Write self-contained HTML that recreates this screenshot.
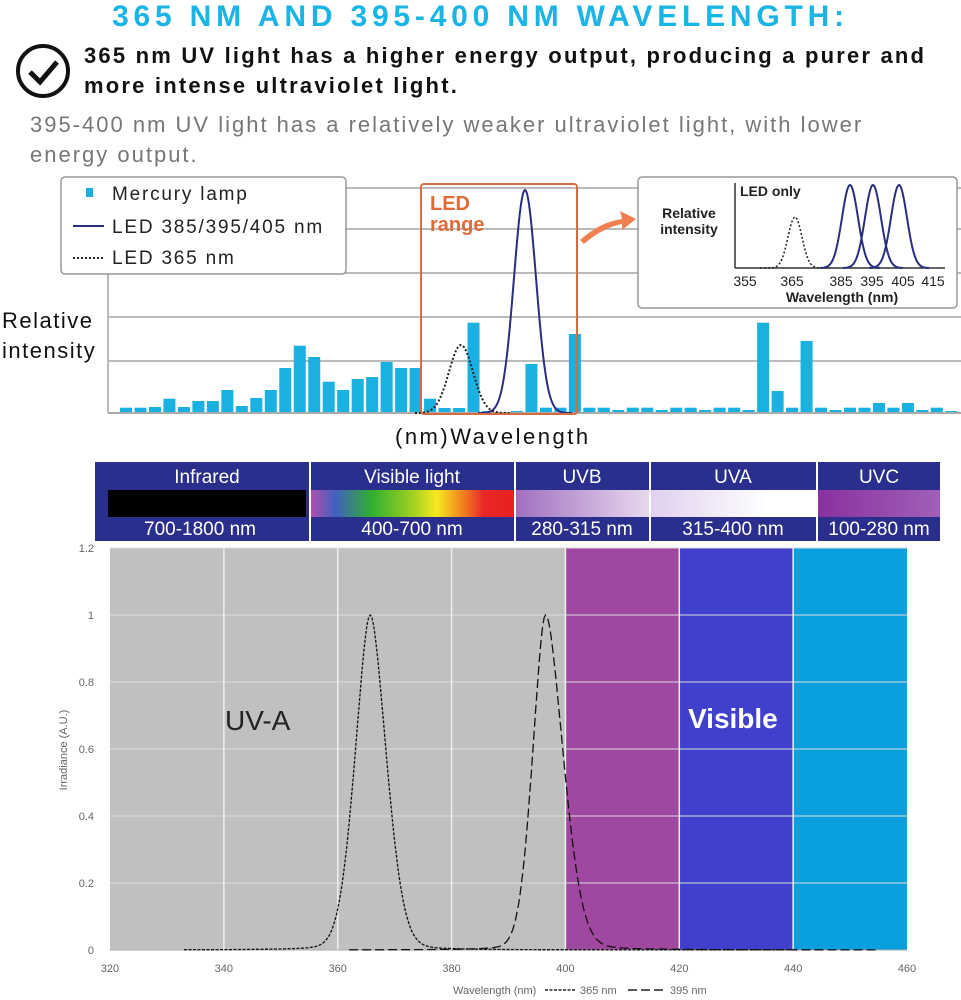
<!DOCTYPE html>
<html><head><meta charset="utf-8"><style>
body{margin:0;width:961px;height:1000px;background:#fff;overflow:hidden;font-family:"Liberation Sans",sans-serif;position:relative}
.a{position:absolute;white-space:nowrap}
</style></head><body>
<div class="a" style="left:0;width:961px;text-align:center;top:0px;font-size:30px;font-weight:bold;color:#1ab4e6;letter-spacing:4.8px">365 NM AND 395-400 NM WAVELENGTH:</div>
<svg class="a" style="left:14px;top:42px" width="58" height="58"><circle cx="29" cy="29" r="25" fill="none" stroke="#111" stroke-width="4"/><path d="M16 30 L26 40 L43 20" fill="none" stroke="#111" stroke-width="5"/></svg>
<div class="a" style="left:84px;top:41px;font-size:22px;font-weight:bold;color:#111;line-height:30px;letter-spacing:2.2px">365 nm UV light has a higher energy output, producing a purer and<br>more intense ultraviolet light.</div>
<div class="a" style="left:30px;top:110px;font-size:22px;color:#777;line-height:30px;letter-spacing:2px">395-400 nm UV light has a relatively weaker ultraviolet light, with lower<br>energy output.</div>
<svg class="a" style="left:0;top:170px" width="961" height="285" id="top"></svg>
<div class="a" style="left:2px;top:306px;font-size:22px;color:#111;line-height:30px;letter-spacing:1.5px">Relative<br>intensity</div>
<div class="a" style="left:395px;top:424px;font-size:22px;color:#111;letter-spacing:2.5px">(nm)Wavelength</div>
<svg class="a" style="left:0;top:455px" width="961" height="90">
<defs>
<linearGradient id="vis"><stop offset="0" stop-color="#b050b0"/><stop offset=".12" stop-color="#4060c0"/><stop offset=".3" stop-color="#30b030"/><stop offset=".5" stop-color="#a0d020"/><stop offset=".62" stop-color="#f8e820"/><stop offset=".75" stop-color="#f08020"/><stop offset=".85" stop-color="#e82828"/><stop offset="1" stop-color="#e82020"/></linearGradient>
<linearGradient id="uvb"><stop offset="0" stop-color="#a070c0"/><stop offset="1" stop-color="#e8d8ee"/></linearGradient>
<linearGradient id="uva"><stop offset="0" stop-color="#e0d0ee"/><stop offset=".7" stop-color="#fff"/><stop offset="1" stop-color="#fff"/></linearGradient>
<linearGradient id="uvc"><stop offset="0" stop-color="#8a30a0"/><stop offset="1" stop-color="#a060b8"/></linearGradient>
</defs>
<g font-family="Liberation Sans" font-size="19" fill="#fff" text-anchor="middle">
<rect x="95" y="7" width="214" height="79" fill="#2a2e8c"/><rect x="108" y="35" width="198" height="27" fill="#000"/>
<text x="207" y="28">Infrared</text><text x="200" y="80">700-1800 nm</text>
<rect x="311" y="7" width="203" height="79" fill="#2a2e8c"/><rect x="311" y="35" width="203" height="27" fill="url(#vis)"/>
<text x="412" y="28">Visible light</text><text x="412" y="80">400-700 nm</text>
<rect x="516" y="7" width="133" height="79" fill="#2a2e8c"/><rect x="516" y="35" width="133" height="27" fill="url(#uvb)"/>
<text x="582" y="28">UVB</text><text x="582" y="80">280-315 nm</text>
<rect x="651" y="7" width="165" height="79" fill="#2a2e8c"/><rect x="651" y="35" width="165" height="27" fill="url(#uva)"/>
<text x="733" y="28">UVA</text><text x="733" y="80">315-400 nm</text>
<rect x="818" y="7" width="122" height="79" fill="#2a2e8c"/><rect x="818" y="35" width="122" height="27" fill="url(#uvc)"/>
<text x="879" y="28">UVC</text><text x="879" y="80">100-280 nm</text>
</g></svg>
<svg class="a" style="left:0;top:0" width="961" height="1000" id="bot"></svg>
<script>
var NS="http://www.w3.org/2000/svg";
function el(p,t,a,txt){var e=document.createElementNS(NS,t);for(var k in a)e.setAttribute(k,a[k]);if(txt!=null)e.textContent=txt;p.appendChild(e);return e;}
var T=document.getElementById("top");var oy=170;
[188,229,273,317,361].forEach(function(y){el(T,"line",{x1:108,x2:961,y1:y-oy,y2:y-oy,stroke:"#bbb","stroke-width":2});});
el(T,"line",{x1:108,x2:108,y1:274-oy,y2:413-oy,stroke:"#bbb","stroke-width":2});
var tops={0:407.7,1:407.7,2:407,3:398.7,4:407,5:401,6:401,7:390,8:406,9:398,10:390,11:368,12:345.7,13:357,14:381.7,15:390,16:379,17:377,18:362,19:368,20:368,21:398.7,22:408,23:408,24:322.7,25:411,27:411,28:364,29:407.7,30:407.7,31:334,44:322.7,45:391,46:407.7,47:341,49:410,52:403,54:403,57:411};
for(var i=0;i<58;i++){var t=tops[i];if(t===undefined){if(i==26)continue;t=(i%3==1)?410:407.7;}var cx=126+i*14.48;el(T,"rect",{x:cx-6,y:t-oy,width:12,height:413-t,fill:"#1ab0e0"});}
el(T,"line",{x1:108,x2:961,y1:413-oy,y2:413-oy,stroke:"#aaa","stroke-width":2});
function curve(c,w,top,x0,x1,base){var d="";for(var x=x0;x<=x1;x+=1){var g=Math.exp(-Math.pow((x-c)/w,2)/2);d+=(x==x0?"M":"L")+x+" "+(base-(base-top)*g);}return d;}
el(T,"path",{d:curve(525,11,190-oy,478,572,413-oy),fill:"none",stroke:"#2a2e80","stroke-width":2});
el(T,"path",{d:curve(461,12,345-oy,415,512,413-oy),fill:"none",stroke:"#222","stroke-width":2,"stroke-dasharray":"2,2"});
el(T,"rect",{x:421,y:184-oy,width:156,height:230,fill:"none",stroke:"#d86a40","stroke-width":2,rx:3});
el(T,"text",{x:430,y:210-oy,"font-size":20,"font-weight":"bold",fill:"#e06a38","font-family":"Liberation Sans"},"LED");
el(T,"text",{x:430,y:231-oy,"font-size":20,"font-weight":"bold",fill:"#e06a38","font-family":"Liberation Sans"},"range");
el(T,"path",{d:"M580 240 Q600 222 622 219 L620 211 L636 219 L622 230 L622 224 Q602 228 584 244 Z",transform:"translate(0,-170)",fill:"#f08050"});
el(T,"rect",{x:61,y:177-oy,width:285,height:97,fill:"#fff",stroke:"#999","stroke-width":1.5,rx:4});
el(T,"rect",{x:86,y:188-oy,width:7,height:9,fill:"#1ab0e0"});
el(T,"line",{x1:73,x2:104,y1:226-oy,y2:226-oy,stroke:"#2a2e80","stroke-width":2});
el(T,"line",{x1:73,x2:104,y1:258-oy,y2:258-oy,stroke:"#222","stroke-width":2,"stroke-dasharray":"2,2"});
[["Mercury lamp",200],["LED 385/395/405 nm",233],["LED 365 nm",264]].forEach(function(a){el(T,"text",{x:112,y:a[1]-oy,"font-size":19,fill:"#222","font-family":"Liberation Sans","letter-spacing":"1.8"},a[0]);});
el(T,"rect",{x:638,y:177-oy,width:319,height:131,fill:"#fff",stroke:"#999","stroke-width":1.5,rx:4});
el(T,"line",{x1:735,x2:735,y1:183-oy,y2:268-oy,stroke:"#333","stroke-width":1.5});
el(T,"line",{x1:735,x2:945,y1:268-oy,y2:268-oy,stroke:"#333","stroke-width":1.5});
el(T,"text",{x:740,y:196-oy,"font-size":14,"font-weight":"bold",fill:"#222","font-family":"Liberation Sans"},"LED only");
el(T,"text",{x:689,y:218-oy,"font-size":14,"font-weight":"bold",fill:"#222","font-family":"Liberation Sans","text-anchor":"middle"},"Relative");
el(T,"text",{x:689,y:234-oy,"font-size":14,"font-weight":"bold",fill:"#222","font-family":"Liberation Sans","text-anchor":"middle"},"intensity");
el(T,"path",{d:curve(795,7,217-oy,760,830,268-oy),fill:"none",stroke:"#222","stroke-width":1.5,"stroke-dasharray":"2,2"});
[850,873,899].forEach(function(c){el(T,"path",{d:curve(c,8,185-oy,c-30,c+30,268-oy),fill:"none",stroke:"#2a2e80","stroke-width":2});});
[["355",745],["365",792],["385",841],["395",872],["405",903],["415",933]].forEach(function(a){el(T,"text",{x:a[1],y:286-oy,"font-size":14,fill:"#222","font-family":"Liberation Sans","text-anchor":"middle"},a[0]);});
el(T,"text",{x:842,y:302-oy,"font-size":14,"font-weight":"bold",fill:"#222","font-family":"Liberation Sans","text-anchor":"middle"},"Wavelength (nm)");
var B=document.getElementById("bot");
function X(nm){return 110+(nm-320)*797/140;}function Y(v){return 950-v*402/1.2;}
el(B,"rect",{x:110,y:548,width:X(400)-110,height:402,fill:"#c0c0c0"});
el(B,"rect",{x:X(400),y:548,width:X(420)-X(400),height:402,fill:"#a048a0"});
el(B,"rect",{x:X(420),y:548,width:X(440)-X(420),height:402,fill:"#4040cc"});
el(B,"rect",{x:X(440),y:548,width:X(460)-X(440),height:402,fill:"#0aa0e0"});
for(var v=0.2;v<1.21;v+=0.2)el(B,"line",{x1:110,x2:907,y1:Y(v),y2:Y(v),stroke:"#ddd","stroke-width":1});
for(var n=340;n<460;n+=20)el(B,"line",{x1:X(n),x2:X(n),y1:548,y2:950,stroke:"#eee","stroke-width":1.5});
el(B,"line",{x1:110,x2:907,y1:950,y2:950,stroke:"#aaa","stroke-width":1});
["0","0.2","0.4","0.6","0.8","1","1.2"].forEach(function(s,i){el(B,"text",{x:94,y:Y(i*0.2)+4,"font-size":11,fill:"#666","font-family":"Liberation Sans","text-anchor":"end"},s);});
for(var n=320;n<=460;n+=20)el(B,"text",{x:X(n),y:972,"font-size":11,fill:"#666","font-family":"Liberation Sans","text-anchor":"middle"},n);
el(B,"text",{x:0,y:0,"font-size":11,fill:"#666","font-family":"Liberation Sans","text-anchor":"middle",transform:"translate(67,750) rotate(-90)"},"Irradiance (A.U.)");
el(B,"text",{x:453,y:994,"font-size":11,fill:"#666","font-family":"Liberation Sans"},"Wavelength (nm)");
el(B,"line",{x1:545,x2:575,y1:990,y2:990,stroke:"#222","stroke-width":1.5,"stroke-dasharray":"3,1.5"});
el(B,"text",{x:580,y:994,"font-size":11,fill:"#666","font-family":"Liberation Sans"},"365 nm");
el(B,"line",{x1:628,x2:665,y1:990,y2:990,stroke:"#222","stroke-width":1.5,"stroke-dasharray":"9,4"});
el(B,"text",{x:670,y:994,"font-size":11,fill:"#666","font-family":"Liberation Sans"},"395 nm");
el(B,"text",{x:225,y:730,"font-size":28,fill:"#222","font-family":"Liberation Sans"},"UV-A");
el(B,"text",{x:688,y:728,"font-size":28,"font-weight":"bold",fill:"#fff","font-family":"Liberation Sans"},"Visible");
function spec(c,wl,wr,x0,x1){var d="";for(var n=x0;n<=x1;n+=0.25){var w=n<c?wl:wr;var u=(n-c)/w;var g=0.8*Math.exp(-u*u/2)+0.2/(1+u*u*2);d+=(n==x0?"M":"L")+X(n).toFixed(1)+" "+Y(g).toFixed(1);}return d;}
el(B,"path",{d:spec(365.7,2.8,3.0,333,440),fill:"none",stroke:"#111","stroke-width":1.3,"stroke-dasharray":"3,1.5"});
el(B,"path",{d:spec(396.5,2.4,3.3,362,455),fill:"none",stroke:"#111","stroke-width":1.3,"stroke-dasharray":"9,4"});
</script>
</body></html>
